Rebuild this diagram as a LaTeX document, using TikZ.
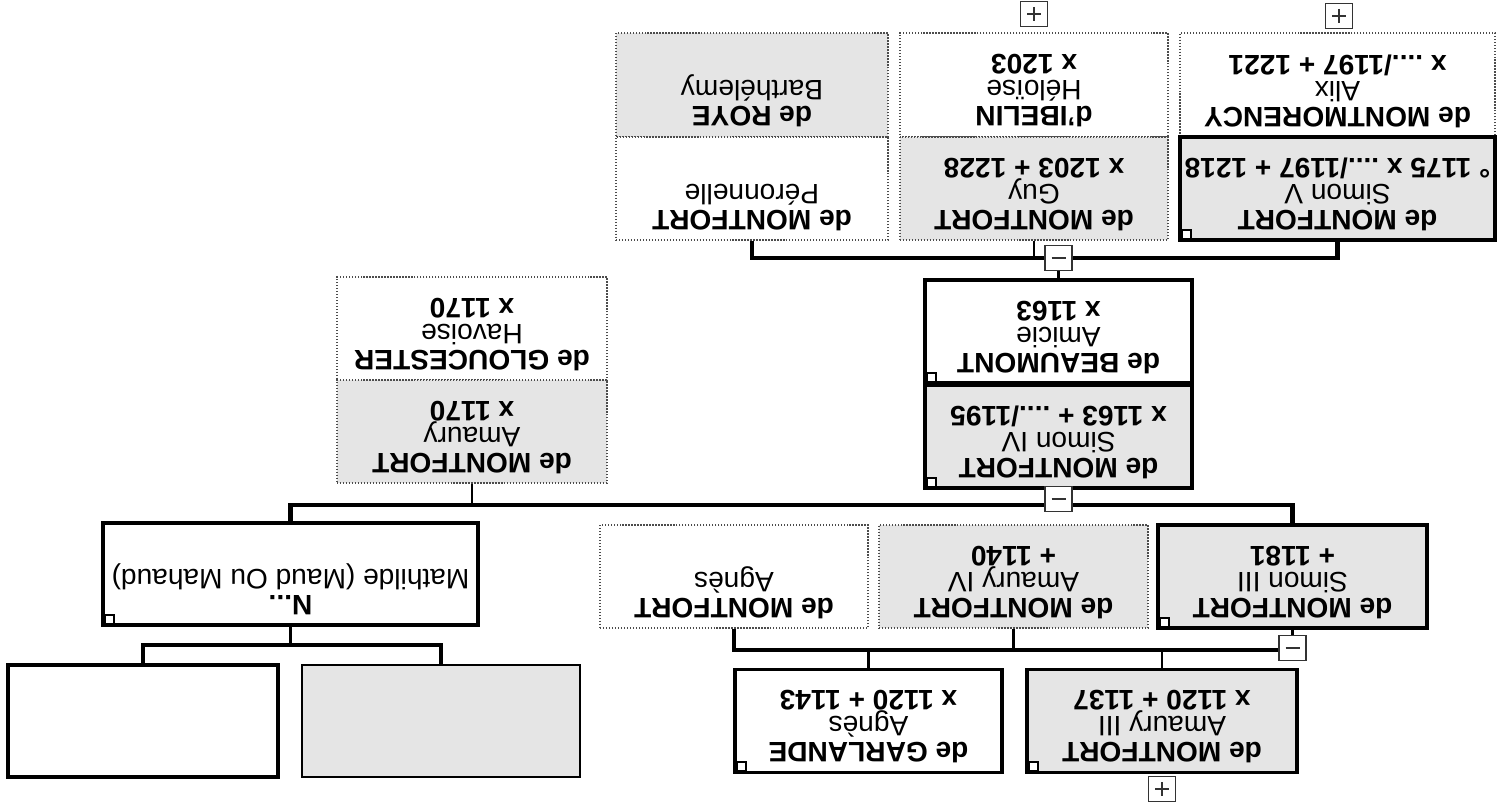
\documentclass[tikz,border=0pt]{standalone}
\usepackage{fontspec}
\setmainfont{Liberation Sans}
\usetikzlibrary{calc}
\newcommand{\tp}{\mbox{}\\[-10pt]}
\begin{document}
\begin{tikzpicture}[x=0.02cm,y=-0.02cm,
  panel/.style={rectangle, rotate=180, inner sep=0pt, align=center, font=\fontsize{16}{14.8}\selectfont},
  sz/.style n args={2}{minimum width=#1*0.02cm, minimum height=#2*0.02cm},
  thickb/.style={draw=black, line width=2.2pt},
  dotb/.style={draw=black!70, densely dotted, line width=0.7pt},
  grayf/.style={fill=gray!20},
  whitef/.style={fill=white},
  hconn/.style={line width=2.4pt},
  vconn/.style={line width=1.5pt},
  cornermark/.style={draw, line width=1.2pt, fill=white},
  togbox/.style={draw=black!80, fill=white, line width=0.6pt, inner sep=0pt, minimum width=27*0.02cm, minimum height=25*0.02cm},
  glyph/.style={line width=0.6pt, black!80}
]
\useasboundingbox (0,0) rectangle (1497,807);

% ---- top row ----
\node[panel, sz={315}{104}, whitef, dotb] (alix) at (1337.5,85) {\tp\textbf{de MONTMORENCY}\\Alix\\\textbf{x ..../1197 + 1221}};
\node[panel, sz={315}{103}, grayf, thickb] (simV) at (1337.5,188.5) {\tp\textbf{de MONTFORT}\\Simon V\\\textbf{° 1175 x ..../1197 + 1218}};
\node[panel, sz={268}{104}, whitef, dotb] (heloise) at (1034,85) {\tp\textbf{d'IBELIN}\\Héloïse\\\textbf{x 1203}};
\node[panel, sz={268}{103}, grayf, dotb] (guy) at (1034,188.5) {\tp\textbf{de MONTFORT}\\Guy\\\textbf{x 1203 + 1228}};
\node[panel, sz={272}{104}, grayf, dotb] (roye) at (752,85) {\tp\textbf{de ROYE}\\Barthélemy\\~};
\node[panel, sz={272}{103}, whitef, dotb] (peron) at (752,188.5) {\tp\textbf{de MONTFORT}\\Péronnelle\\~};

% ---- second row ----
\node[panel, sz={267}{103}, whitef, thickb] (amicie) at (1058.5,331.5) {\tp\textbf{de BEAUMONT}\\Amicie\\\textbf{x 1163}};
\node[panel, sz={267}{103}, grayf, thickb] (simIV) at (1058.5,436.5) {\tp\textbf{de MONTFORT}\\Simon IV\\\textbf{x 1163 + ..../1195}};
\node[panel, sz={270}{103}, whitef, dotb] (glouc) at (472,328.5) {\tp\textbf{de GLOUCESTER}\\Havoise\\\textbf{x 1170}};
\node[panel, sz={270}{103}, grayf, dotb] (amaury) at (472,431.5) {\tp\textbf{de MONTFORT}\\Amaury\\\textbf{x 1170}};

% ---- third row ----
\node[panel, sz={375}{102}, whitef, thickb] (nmat) at (290.5,574) {\tp\textbf{N...}\\Mathilde (Maud Ou Mahaud)\\~};
\node[panel, sz={269}{103}, grayf, thickb] (simIII) at (1292.5,576.5) {\tp\textbf{de MONTFORT}\\Simon III\\\textbf{+ 1181}};
\node[panel, sz={269}{103}, grayf, dotb] (amIV) at (1013.5,576.5) {\tp\textbf{de MONTFORT}\\Amaury IV\\\textbf{+ 1140}};
\node[panel, sz={268}{103}, whitef, dotb] (agnes) at (734,576.5) {\tp\textbf{de MONTFORT}\\Agnès\\~};

% ---- bottom row ----
\node[panel, sz={267}{103}, whitef, thickb] (garl) at (868.5,721) {\tp\textbf{de GARLANDE}\\Agnès\\\textbf{x 1120 + 1143}};
\node[panel, sz={270}{103}, grayf, thickb] (amIII) at (1162,721) {\tp\textbf{de MONTFORT}\\Amaury III\\\textbf{x 1120 + 1137}};
\node[panel, sz={270}{112}, whitef, thickb] (blank) at (143,721) {};
\node[panel, sz={278}{112}, grayf, draw=black, line width=0.9pt] (grayb) at (441,721) {};

% ---- connectors ----
\coordinate (l1) at (0,258);
\coordinate (l2) at (0,505);
\coordinate (l3) at (0,650);
\coordinate (l4) at (0,645);
\draw[hconn] (peron.north) -- (peron.north |- l1) -- (simV.north |- l1) -- (simV.north);
\draw[vconn] (guy.north) -- (guy.north |- l1);
\draw[vconn] (amicie.south) -- (amicie.south |- l1);
\draw[hconn] (nmat.south) -- (nmat.south |- l2) -- (simIII.south |- l2) -- (simIII.south);
\draw[vconn] (amaury.north) -- (amaury.north |- l2);
\draw[vconn] (simIV.north) -- (simIV.north |- l2);
\draw[hconn] (agnes.north) -- (agnes.north |- l3) -- (simIII.north |- l3);
\draw[vconn] (simIII.north) -- (simIII.north |- l3);
\draw[vconn] (amIV.north) -- (amIV.north |- l3);
\draw[vconn] (garl.south) -- (garl.south |- l3);
\draw[vconn] (amIII.south) -- (amIII.south |- l3);
\draw[vconn] (nmat.north) -- (nmat.north |- l4);
\draw[hconn] (blank.south) -- (blank.south |- l4) -- (grayb.south |- l4) -- (grayb.south);

% ---- corner marks ----
\foreach \n in {simV,amicie,simIV,nmat,simIII,garl,amIII}{
  \draw[cornermark] ($(\n.north east)+(4,-3)$) rectangle ++(9,-9);
}

% ---- toggles ----
\node[togbox] (p1) at (1339,16) {};
\node[togbox] (p2) at (1034,14) {};
\node[togbox] (m1) at (1058.5,258) {};
\node[togbox] (m2) at (1058.5,499) {};
\node[togbox] (m3) at (1292.5,648) {};
\node[togbox] (p3) at (1162,789) {};
\foreach \t in {p1,p2,m1,m2,m3,p3}{
  \draw[glyph] ($(\t.center)+(-7,0)$) -- ($(\t.center)+(7,0)$);
}
\foreach \t in {p1,p2,p3}{
  \draw[glyph] ($(\t.center)+(0,-7)$) -- ($(\t.center)+(0,7)$);
}
\end{tikzpicture}
\end{document}
